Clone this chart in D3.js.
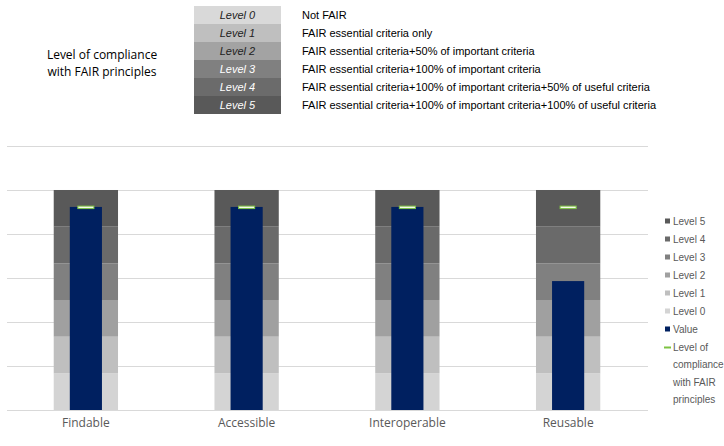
<!DOCTYPE html>
<html><head><meta charset="utf-8">
<script src="https://cdn.jsdelivr.net/npm/d3@7"></script>
<style>body{margin:0;background:#fff;} svg{display:block;}</style>
</head><body>
<svg id="c" width="724" height="446"></svg>
<script>
const categories = ["Findable", "Accessible", "Interoperable", "Reusable"];
const values = [92.3, 92.3, 92.3, 58.6];
const compliance = [92, 92, 92, 92];
const levelNames = ["Level 0", "Level 1", "Level 2", "Level 3", "Level 4", "Level 5"];
const levelBands = [16.667, 16.667, 16.667, 16.667, 16.667, 16.667];
const levelDescriptions = [
  "Not FAIR",
  "FAIR essential criteria only",
  "FAIR essential criteria+50% of important criteria",
  "FAIR essential criteria+100% of important criteria",
  "FAIR essential criteria+100% of important criteria+50% of useful criteria",
  "FAIR essential criteria+100% of important criteria+100% of useful criteria"
];
const yTicks = [0, 20, 40, 60, 80, 100, 120];

const levelColors = ["#d4d4d4", "#bfbfbf", "#a0a0a0", "#808080", "#6a6a6a", "#595959"];
const tableColors = ["#d9d9d9", "#bfbfbf", "#a3a3a3", "#808080", "#6b6b6b", "#595959"];
const navy = "#002060";
const green = "#7dc242";

const svg = d3.select("#c");

// scales
const x = d3.scaleBand().domain(categories).range([5.5, 648.5]).paddingInner(0).paddingOuter(0);
const y = d3.scaleLinear().domain([0, 120]).range([410, 146]);
const step = x.bandwidth();
const bandW = step * 0.4, valW = step * 0.2, markW = step * 0.1;

// gridlines
svg.append("g").selectAll("line").data(yTicks).join("line")
  .attr("x1", 7).attr("x2", 648)
  .attr("y1", d => Math.round(y(d)) + 0.5).attr("y2", d => Math.round(y(d)) + 0.5)
  .attr("stroke", "#d9d9d9").attr("stroke-width", 1);

// stacked level bands
const stacks = [];
categories.forEach(c => {
  let acc = 0;
  levelBands.forEach((v, i) => { stacks.push({c, i, y0: acc, y1: acc + v}); acc += v; });
});
svg.append("g").selectAll("rect").data(stacks).join("rect")
  .attr("x", d => x(d.c) + step / 2 - bandW / 2)
  .attr("width", bandW)
  .attr("y", d => y(d.y1))
  .attr("height", d => y(d.y0) - y(d.y1))
  .attr("fill", d => levelColors[d.i]);

// value bars
svg.append("g").selectAll("rect").data(categories).join("rect")
  .attr("x", d => x(d) + step / 2 - valW / 2)
  .attr("width", valW)
  .attr("y", (d, i) => y(values[i]))
  .attr("height", (d, i) => y(0) - y(values[i]))
  .attr("fill", navy);

// compliance markers
svg.append("g").selectAll("rect").data(categories).join("rect")
  .attr("x", d => x(d) + step / 2 - markW / 2)
  .attr("width", markW)
  .attr("y", (d, i) => y(compliance[i]) - 1.5)
  .attr("height", 2.5)
  .attr("fill", "#f4fbec")
  .attr("stroke", green).attr("stroke-width", 1);

// x-axis labels
const xAxis = d3.axisBottom(x).tickSize(0).tickPadding(8);
const gx = svg.append("g").attr("transform", "translate(0,410)").call(xAxis);
gx.select(".domain").remove();
gx.selectAll("text").attr("font-family", "'Open Sans', sans-serif").attr("font-size", 12)
  .attr("fill", "#595959");

// title
const title = svg.append("text").attr("x", 102).attr("font-family", "'Open Sans', sans-serif")
  .attr("font-size", 12).attr("fill", "#000").attr("text-anchor", "middle");
title.append("tspan").attr("x", 102).attr("y", 59).text("Level of compliance");
title.append("tspan").attr("x", 102).attr("y", 76).text("with FAIR principles");

// top table
const rowH = 18, tX = 194, tW = 87, tY = 6;
const rows = svg.append("g").selectAll("g").data(levelNames).join("g");
rows.append("rect").attr("x", tX).attr("y", (d, i) => tY + i * rowH)
  .attr("width", tW).attr("height", rowH).attr("fill", (d, i) => tableColors[i]);
rows.append("text").attr("x", tX + tW / 2).attr("y", (d, i) => tY + i * rowH + 13)
  .attr("text-anchor", "middle").attr("font-family", "'Liberation Sans', Arial, sans-serif")
  .attr("font-size", 11).attr("font-style", "italic")
  .attr("fill", (d, i) => i >= 3 ? "#ffffff" : "#222")
  .text(d => d);
rows.append("text").attr("x", 302).attr("y", (d, i) => tY + i * rowH + 13)
  .attr("font-family", "'Liberation Sans', Arial, sans-serif").attr("font-size", 11)
  .attr("fill", "#000").text((d, i) => levelDescriptions[i]);

// legend
const legendItems = levelNames.map((n, i) => ({name: n, color: levelColors[i], type: "sq"})).reverse();
legendItems.push({name: "Value", color: navy, type: "sq"});
legendItems.push({name: ["Level of", "compliance", "with FAIR", "principles"], color: green, type: "line"});
const lg = svg.append("g").attr("font-family", "'Liberation Sans', Arial, sans-serif").attr("font-size", 10).attr("fill", "#595959");
legendItems.forEach((it, i) => {
  const cy = 221 + i * 18;
  if (it.type === "sq") {
    lg.append("rect").attr("x", 665).attr("y", cy - 2.5).attr("width", 5).attr("height", 5).attr("fill", it.color);
    lg.append("text").attr("x", 673).attr("y", cy + 3.5).text(it.name);
  } else {
    lg.append("line").attr("x1", 664).attr("x2", 671).attr("y1", cy + 0.5).attr("y2", cy + 0.5)
      .attr("stroke", it.color).attr("stroke-width", 2);
    it.name.forEach((t, j) => lg.append("text").attr("x", 673).attr("y", cy + 3.5 + j * 17.5).text(t));
  }
});
</script>
</body></html>
